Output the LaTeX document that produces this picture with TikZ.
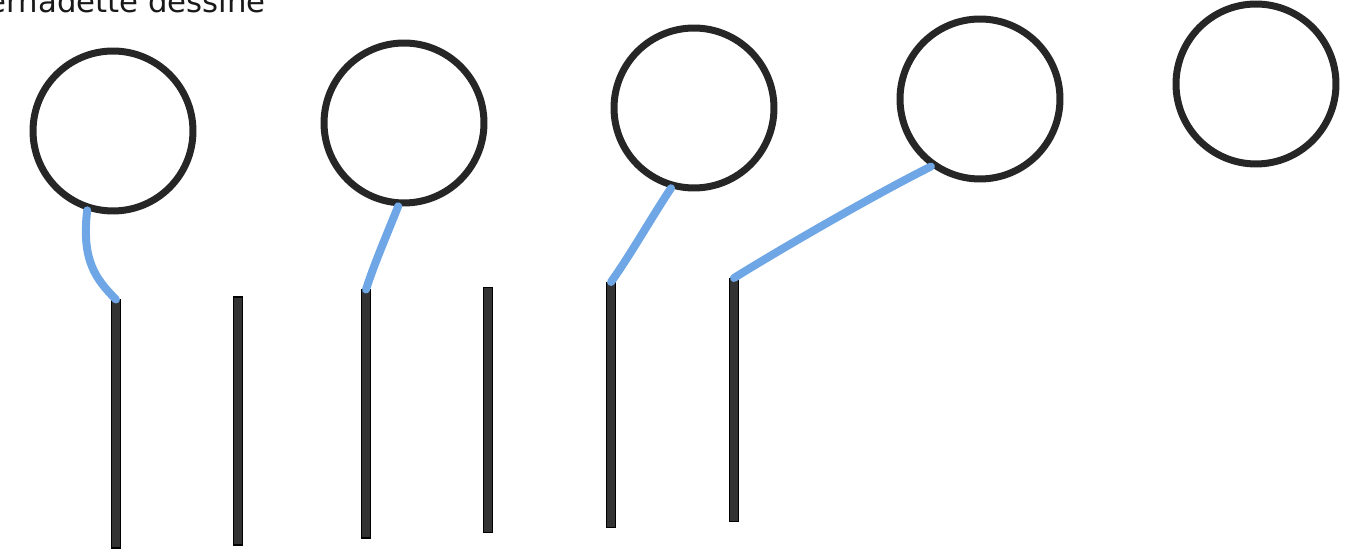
\documentclass[tikz,border=0pt]{standalone}
\usepackage{fontspec}
\setmainfont{Carlito}
\newfontfamily\capfont{DejaVu Sans}

\begin{document}
\begin{tikzpicture}[
  x=0.02cm, y=-0.02cm,
  ring/.style={draw=black!85, line width=0.14cm, circle, inner sep=0pt, minimum size=3.2cm},
  bar/.style={draw=black, line width=0.6pt, fill=black!80, inner sep=0pt, minimum width=0.17cm},
  wire/.style={draw=skyblue, line width=0.16cm, line cap=round},
]
  \definecolor{skyblue}{RGB}{110,166,230}
  \useasboundingbox (0,0) rectangle (1346,550);

  % ----- Caption (cut off by the top edge) -----
  \node[anchor=base east, inner sep=0pt, font=\capfont\fontsize{17.5}{20}\selectfont, text=black!90]
    (cap) at (266,13) {Bernadette dessine};

  % ----- Circles -----
  \node[ring] (c1) at (113,131) {};
  \node[ring] (c2) at (404,123) {};
  \node[ring] (c3) at (694,108) {};
  \node[ring] (c4) at (980,99) {};
  \node[ring] (c5) at (1256,84) {};

  % ----- Sticks -----
  \node[bar, minimum height=4.96cm] (s1) at (116,424) {};
  \node[bar, minimum height=4.96cm] (s2) at (238,421) {};
  \node[bar, minimum height=4.96cm] (s3) at (366,414) {};
  \node[bar, minimum height=4.90cm] (s4) at (488,410) {};
  \node[bar, minimum height=4.90cm] (s5) at (611,405) {};
  \node[bar, minimum height=4.86cm] (s6) at (734,400) {};

  % ----- Blue strings: circle -> stick -----
  \draw[wire] (c1.-108) .. controls +(-6,50) and +(-20,-20) .. (s1.north);
  \draw[wire] (c2.-94) .. controls +(-12,30) and +(8,-25) .. (s3.north);
  \draw[wire] (c3.-106) .. controls +(-20,30) and +(20,-28) .. (s5.north);
  \draw[wire] (c4.-126) .. controls +(-60,30) and +(40,-25) .. (s6.north);
\end{tikzpicture}
\end{document}
